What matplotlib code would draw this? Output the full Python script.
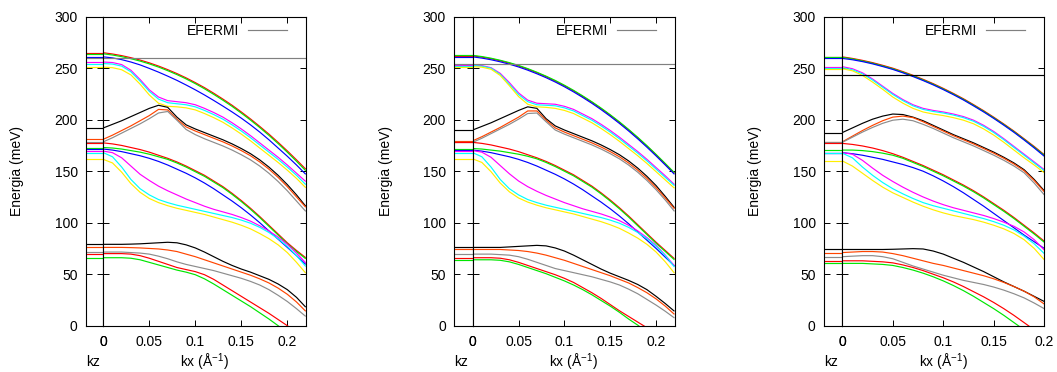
import matplotlib
matplotlib.use('Agg')
import matplotlib.pyplot as plt
from matplotlib.lines import Line2D

plt.rcParams['font.family'] = ['Liberation Sans', 'DejaVu Sans']
plt.rcParams['font.size'] = 10
plt.rcParams['mathtext.default'] = 'regular'

# ---------------- data ----------------
K_AB = [0.00, 0.01, 0.02, 0.03, 0.04, 0.05, 0.06, 0.07, 0.08, 0.09, 0.10, 0.11,
        0.12, 0.13, 0.14, 0.15, 0.16, 0.17, 0.18, 0.19, 0.20, 0.21, 0.22]
K_C = [0.00, 0.01, 0.02, 0.03, 0.04, 0.05, 0.06, 0.07, 0.08, 0.09, 0.10, 0.11,
       0.12, 0.13, 0.14, 0.15, 0.16, 0.17, 0.18, 0.19, 0.20]
KZ = [-1.0, 0.0]

X_TICKS = [0, 0.05, 0.1, 0.15, 0.2]
X_TICK_LABELS = ['0', '0.05', '0.1', '0.15', '0.2']
Y_TICKS = [0, 50, 100, 150, 200, 250, 300]
KZ_TICK_LABELS = ['0']

EFERMI = [260.0, 253.7, 243.0]

# panel 1
P1_TOP_RED = [265, 263.8, 262.2, 260.2, 257.9, 255.2, 252.1, 248.6, 244.8, 240.6, 236, 231.1, 225.7, 220, 214, 207.5, 200.7, 193.5, 186, 178, 169.7, 161, 152]
P1_TOP_GREEN = [264, 262.8, 261.2, 259.2, 256.9, 254.2, 251.1, 247.6, 243.8, 239.6, 235, 230, 224.6, 218.9, 212.9, 206.4, 199.6, 192.4, 184.8, 176.8, 168.4, 159.6, 150.5]
P1_TOP_BLUE = [261, 260, 258.3, 256, 253.2, 249.8, 246.2, 242.3, 238.2, 233.7, 229, 224, 218.7, 213.2, 207.5, 201.5, 195, 188, 180.5, 172.5, 164.5, 156, 147]
P1_TOP_MAGENTA = [256, 255.5, 253.5, 248, 239, 229, 222, 218.5, 217.5, 216.5, 214.5, 211, 207, 202.5, 197, 191, 184.5, 177.5, 170.5, 163.5, 156, 148, 140]
P1_TOP_CYAN = [254.5, 254, 252, 246.5, 237.5, 227.5, 220, 216.5, 215.5, 214.5, 212.5, 209, 205, 200.5, 195, 189, 182.5, 175.5, 168.5, 161.5, 154, 146, 137]
P1_TOP_YELLOW = [251, 250.5, 248.5, 243.5, 234.5, 224, 216, 213, 212.5, 211.5, 209.5, 206, 202, 197.5, 192, 186, 179.5, 172.5, 165.5, 158.5, 151, 143, 134]
P1_MID_BLACK = [192, 195.5, 199, 203, 207, 211, 214, 212, 202.5, 195, 191, 187.5, 184, 180.5, 176.5, 172, 167, 161, 154, 146, 137, 127, 116]
P1_MID_ORANGE = [181, 185, 189.5, 194, 199, 204, 210, 209.5, 200.5, 193, 189, 185.5, 182, 178.5, 174.5, 170, 165, 159, 152, 144, 135, 125, 115]
P1_MID_GRAY = [178.5, 182.5, 187, 191.5, 196, 201, 206.5, 208, 199.5, 190.5, 185.5, 181.5, 178, 174.5, 170.5, 166, 161, 155, 148, 140, 131, 121, 111]
P1_LOW_RED = [177.5, 176.5, 175, 173, 171, 168.5, 165.5, 162.5, 159, 155, 150.5, 146, 140.5, 135, 128.5, 121.5, 114, 106, 97.5, 89, 80.5, 73, 66]
P1_LOW_GREEN = [173, 172.5, 171.5, 170, 168.5, 166.5, 164, 161.5, 158, 154, 149.5, 145, 139.5, 134, 127.5, 120.5, 113, 105, 96.5, 88, 79.5, 72, 65]
P1_LOW_BLUE = [171.5, 170.5, 169, 167, 165, 162.5, 159.5, 156, 152, 148, 143.5, 138.5, 133, 127, 121, 114.5, 107.5, 100, 92, 84, 76, 68, 59.5]
P1_LOW_MAGENTA = [169.5, 168, 163, 155, 147, 141, 135.5, 131, 127, 123, 119.5, 116, 113, 110.5, 108, 105, 101.5, 97, 92, 86, 79, 70.5, 61]
P1_LOW_CYAN = [168, 164, 154, 142, 133, 127, 122.5, 119.5, 117, 115, 113, 111, 109, 107, 105, 102.5, 99.5, 95.5, 90.5, 84.5, 77, 68, 57.5]
P1_LOW_YELLOW = [161.5, 158, 149, 138, 129.5, 123.5, 119.5, 116.5, 114, 112, 110, 108, 105.5, 103, 100.5, 97.5, 94, 89.5, 84.5, 78.5, 71, 61.5, 51]
P1_BOT_BLACK = [79, 79, 79, 79.2, 79.5, 80, 80.5, 81, 80.5, 78.5, 75.5, 71.5, 67, 62.5, 58.5, 55, 52, 48.5, 45, 40.5, 35, 27.5, 18]
P1_BOT_ORANGE = [76, 76, 76, 75.8, 75.5, 75, 74.5, 73.5, 72, 69.5, 67, 64, 61, 58, 55, 52, 49, 45.5, 41.5, 36.5, 30.5, 23, 14]
P1_BOT_GRAY = [71.5, 71.5, 71.5, 71, 70.5, 69.5, 67.5, 65, 62, 59.5, 57.5, 55.5, 53.5, 51, 48.5, 46, 43, 39.5, 35, 29.5, 23.5, 16.5, 9]
P1_BOT_RED = [70, 70, 70, 69.5, 68, 65.5, 62.5, 59.5, 56.5, 54.5, 52.5, 49.5, 45, 39.5, 34, 28.5, 23, 17.5, 12, 6, 0, -6, -12]
P1_BOT_GREEN = [66, 66, 66, 65.5, 64, 61.5, 59, 56.5, 54, 52, 49.5, 45.5, 40.5, 35, 29.5, 24, 18.5, 12.5, 6.5, 0, -6.5, -13, -20]

# panel 2
P2_TOP_RED = [262, 260.8, 259.2, 257.2, 254.9, 252.2, 249.1, 245.6, 241.8, 237.6, 233, 228, 222.6, 216.9, 210.8, 204.3, 197.4, 190.1, 182.4, 174.3, 165.8, 157, 148]
P2_TOP_GREEN = [262.5, 261.3, 259.7, 257.7, 255.4, 252.7, 249.6, 246.1, 242.3, 238.1, 233.5, 228.5, 223.1, 217.4, 211.3, 204.8, 197.9, 190.6, 182.9, 174.8, 166.3, 157.5, 148.5]
P2_TOP_BLUE = [261, 259.8, 258.2, 256.2, 253.9, 251.2, 248.1, 244.6, 240.8, 236.6, 232, 227, 221.6, 215.9, 209.8, 203.3, 196.4, 189.1, 181.4, 173.3, 164.8, 156, 147]
P2_TOP_MAGENTA = [253, 252.5, 250.5, 245, 236, 226, 219, 216, 215.5, 215, 213, 210, 205.5, 201, 195.5, 189.5, 183, 176, 169, 161.5, 153.5, 145.5, 137]
P2_TOP_CYAN = [252.5, 252, 250, 244, 234.5, 224.5, 217.5, 214.5, 214, 213.5, 211.5, 208.5, 204, 199.5, 194, 188, 181.5, 174.5, 167.5, 160, 152, 144, 136]
P2_TOP_YELLOW = [251.5, 251, 249, 243, 233, 222.5, 215, 212.5, 212, 211, 209, 206, 201.5, 197, 191.5, 185.5, 179, 172, 165, 157.5, 149.5, 141.5, 133.5]
P2_MID_BLACK = [190, 193.5, 197, 201, 205, 209, 212.5, 211, 201, 194, 190, 186.5, 183, 179.5, 175.5, 171, 166, 160, 153, 145, 136, 125.5, 114.5]
P2_MID_ORANGE = [179.5, 183.5, 188, 192.5, 197.5, 202.5, 208.5, 208.5, 199.5, 192, 188, 184.5, 181, 177.5, 173.5, 169, 164, 158, 151, 143, 134, 124, 113.5]
P2_MID_GRAY = [178, 182, 186.5, 191, 195.5, 200.5, 206, 206.5, 198, 190, 186, 182.5, 179, 175.5, 171.5, 167, 162, 156, 149, 141, 132, 122, 111]
P2_LOW_RED = [178, 177, 175.5, 173.5, 171.5, 169, 166, 163, 159.5, 155.5, 151, 146.5, 141, 135.5, 129, 122, 114.5, 106.5, 98, 89.5, 81, 73, 65]
P2_LOW_GREEN = [172, 171.5, 170.5, 169.5, 168, 166.5, 164.5, 162, 158.5, 154.5, 150, 145.5, 140, 134.5, 128, 121, 113.5, 105.5, 97, 88.5, 80, 72, 64]
P2_LOW_BLUE = [170.5, 169.5, 168, 166, 164, 161.5, 158.5, 155, 151, 147, 142.5, 137.5, 132, 126, 120, 113.5, 106.5, 99, 91, 83, 75, 66.5, 58]
P2_LOW_MAGENTA = [170, 168.5, 163.5, 155.5, 147.5, 140.5, 135, 130.5, 126.5, 123, 119.5, 116.5, 113.5, 111, 108.5, 105.5, 102, 97.5, 92, 85.5, 78, 68.5, 58]
P2_LOW_CYAN = [168, 164, 154, 142, 133, 127, 122.5, 119.5, 117, 115, 113, 111, 109, 107, 105, 102.5, 99.5, 95.5, 90.5, 84.5, 77, 68, 57]
P2_LOW_YELLOW = [162, 158.5, 149.5, 138.5, 130, 124, 120, 117, 114.5, 112.5, 110.5, 108.5, 106, 103.5, 101, 98, 94.5, 90, 85, 79, 71.5, 62, 51]
P2_BOT_BLACK = [76, 76, 76, 76, 76.5, 77, 77.5, 78, 77.5, 75.5, 72.5, 68.5, 64, 59.5, 55, 51, 47.5, 44, 40, 35, 28.5, 21.5, 14]
P2_BOT_ORANGE = [74, 74, 74, 74, 73.5, 73, 72, 70.5, 68.5, 66, 63.5, 60.5, 57.5, 54.5, 51.5, 48.5, 45, 41.5, 37, 32, 26, 19, 11]
P2_BOT_GRAY = [69.5, 69.5, 69.5, 69, 68.5, 67, 64.5, 61.5, 58.5, 55.5, 53.5, 51.5, 49.5, 47.5, 45, 42.5, 39.5, 35.5, 31, 25.5, 20, 14, 7.5]
P2_BOT_RED = [66, 66, 66, 65.5, 64, 61.5, 58.5, 55.5, 52.5, 49.5, 46, 42, 37, 32, 26.5, 20.5, 14.5, 9, 3.5, -2, -8, -14, -20]
P2_BOT_GREEN = [64, 64, 64, 63.5, 62, 59.5, 56.5, 53.5, 50.5, 47, 43.5, 39.5, 35, 30, 24.5, 19, 13, 6.5, 0.5, -6, -12.5, -19, -26]

# panel 3
P3_TOP_RED = [261, 259.5, 257.6, 255.4, 252.8, 250, 246.7, 243.1, 239.2, 235, 230.4, 225.5, 220.3, 214.6, 208.7, 202.4, 195.8, 188.9, 181.5, 174, 166]
P3_TOP_GREEN = [260.5, 259, 257, 254.8, 252.2, 249.4, 246.1, 242.5, 238.6, 234.4, 229.8, 224.9, 219.7, 214, 208.1, 201.8, 195.2, 188.3, 180.9, 173.3, 165.4]
P3_TOP_BLUE = [259.5, 258.2, 256.4, 254.2, 251.6, 248.8, 245.5, 241.9, 238, 233.8, 229.2, 224.3, 219.1, 213.4, 207.5, 201.2, 194.6, 187.7, 180.3, 172.6, 164.5]
P3_TOP_MAGENTA = [251.5, 249.5, 245.5, 239.5, 232.5, 225.5, 219.5, 214.5, 211, 209, 207.5, 205.5, 203, 199.5, 194.5, 188.5, 181.5, 174, 166.5, 159, 151.5]
P3_TOP_CYAN = [250.5, 248.5, 244.5, 238.5, 231.5, 224.5, 218.5, 213.5, 210, 208, 206.5, 204.5, 202, 198.5, 193.5, 187.5, 180.5, 173, 165.5, 158, 150.5]
P3_TOP_YELLOW = [249.5, 247.5, 243, 236.5, 229.5, 222, 216, 211, 207.5, 205.5, 204, 202, 199.5, 196, 191, 185, 178, 170.5, 163, 156, 148.5]
P3_MID_BLACK = [187.5, 192, 196.5, 200.5, 203.5, 205.5, 205, 202.5, 199, 194.5, 190, 185.5, 181.5, 177.5, 173, 168.5, 163.5, 158, 151.5, 142, 131]
P3_MID_ORANGE = [178.5, 184, 189.5, 194.5, 199, 202.5, 203.5, 202, 198, 193.5, 189, 184.5, 180.5, 176.5, 172, 167.5, 162.5, 157, 150.5, 141, 130]
P3_MID_GRAY = [178, 183, 188, 192.5, 196.5, 199.5, 200.5, 199, 195.5, 191.5, 187, 182.5, 178.5, 174.5, 170, 165.5, 160.5, 155, 148.5, 138.5, 127]
P3_LOW_RED = [177, 176, 174.5, 172.5, 170, 167, 163.5, 159.5, 155.5, 151, 146.5, 141.5, 136.5, 131, 125, 118.5, 112, 105, 97.5, 90, 82]
P3_LOW_GREEN = [170.5, 170.5, 170, 169, 167.5, 165.5, 162.5, 158.5, 154.5, 150, 145.5, 140.5, 135.5, 130, 124, 117.5, 111, 104, 96.5, 89, 81]
P3_LOW_BLUE = [168, 167, 165.5, 163.5, 161.5, 159, 156.5, 153.5, 150, 145.5, 140.5, 135, 129, 122.5, 116, 109, 102, 95, 88, 81.5, 75]
P3_LOW_MAGENTA = [168, 166.5, 160.5, 153, 146, 140, 134.5, 129.5, 125, 121, 117.5, 114.5, 112, 109.5, 107, 104, 100.5, 96.5, 91, 83.5, 73.5]
P3_LOW_CYAN = [167.5, 163, 154, 146, 139, 133, 128, 123.5, 119.5, 116.5, 114, 111.5, 109, 106.5, 104, 101, 97.5, 93, 87, 79.5, 70]
P3_LOW_YELLOW = [160, 155, 148, 141, 134.5, 129, 124.5, 120, 116, 112.5, 109.5, 107, 105, 103, 100.5, 97.5, 94, 89.5, 83.5, 75, 64]
P3_BOT_BLACK = [74, 74, 74, 74, 74, 74.2, 74.5, 74.8, 74.5, 72.5, 69.5, 65.5, 61.5, 57, 52.5, 47.5, 42.5, 38, 33.5, 28.5, 23.5]
P3_BOT_ORANGE = [71, 71.5, 72, 72, 71.5, 70, 68, 65.5, 63, 60.5, 58.5, 56, 53.5, 51, 48.5, 45.5, 42, 38, 33.5, 28, 21]
P3_BOT_GRAY = [67, 67.5, 68, 68, 67, 65, 61.5, 58, 55, 52, 49, 46.5, 44, 42, 40, 37.5, 34.5, 31, 27, 22, 16.5]
P3_BOT_RED = [63, 63, 63, 62.5, 62, 61, 59, 56.5, 53.5, 50, 46.5, 42.5, 38, 33, 28, 22.5, 16.5, 10, 3, -4, -11]
P3_BOT_GREEN = [60.5, 60.5, 60.5, 60, 59.5, 58.5, 56.5, 54, 51, 47.5, 43.5, 39, 34, 28.5, 22.5, 16.5, 10, 3, -4, -11, -18]

# ---------------- style ----------------
RED, GREEN, BLUE = '#ff0000', '#00e600', '#0000ff'
MAGENTA, CYAN, YELLOW = '#ff00ff', '#00ffff', '#ffee00'
BLACK, ORANGE, GRAY = '#000000', '#ff4500', '#8c8c8c'
BAND_COLORS = [RED, GREEN, BLUE, MAGENTA, CYAN, YELLOW,
               BLACK, ORANGE, GRAY,
               RED, GREEN, BLUE, MAGENTA, CYAN, YELLOW,
               BLACK, ORANGE, GRAY, RED, GREEN]
EF_COLORS = ['#808080', '#808080', '#000000']
EF_LEGEND_COLOR = '#808080'

PANEL_BANDS = [
    [P1_TOP_RED, P1_TOP_GREEN, P1_TOP_BLUE, P1_TOP_MAGENTA, P1_TOP_CYAN, P1_TOP_YELLOW,
     P1_MID_BLACK, P1_MID_ORANGE, P1_MID_GRAY,
     P1_LOW_RED, P1_LOW_GREEN, P1_LOW_BLUE, P1_LOW_MAGENTA, P1_LOW_CYAN, P1_LOW_YELLOW,
     P1_BOT_BLACK, P1_BOT_ORANGE, P1_BOT_GRAY, P1_BOT_RED, P1_BOT_GREEN],
    [P2_TOP_RED, P2_TOP_GREEN, P2_TOP_BLUE, P2_TOP_MAGENTA, P2_TOP_CYAN, P2_TOP_YELLOW,
     P2_MID_BLACK, P2_MID_ORANGE, P2_MID_GRAY,
     P2_LOW_RED, P2_LOW_GREEN, P2_LOW_BLUE, P2_LOW_MAGENTA, P2_LOW_CYAN, P2_LOW_YELLOW,
     P2_BOT_BLACK, P2_BOT_ORANGE, P2_BOT_GRAY, P2_BOT_RED, P2_BOT_GREEN],
    [P3_TOP_RED, P3_TOP_GREEN, P3_TOP_BLUE, P3_TOP_MAGENTA, P3_TOP_CYAN, P3_TOP_YELLOW,
     P3_MID_BLACK, P3_MID_ORANGE, P3_MID_GRAY,
     P3_LOW_RED, P3_LOW_GREEN, P3_LOW_BLUE, P3_LOW_MAGENTA, P3_LOW_CYAN, P3_LOW_YELLOW,
     P3_BOT_BLACK, P3_BOT_ORANGE, P3_BOT_GRAY, P3_BOT_RED, P3_BOT_GREEN],
]
PANEL_K = [K_AB, K_AB, K_C]
PANEL_XMAX = [0.2203, 0.2206, 0.2]

# layout in pixels: (kz left, k=0 position, right edge)
W, H = 1057, 372
TOP_PX, BOT_PX = 16.7, 325.7
LAYOUT = [(86.0, 103.3, 306.0), (454.3, 472.7, 675.0), (824.0, 842.3, 1044.3)]

LW = 0.85
FS = 10

fig = plt.figure(figsize=(W / 100, H / 100), dpi=100)
fig.patch.set_facecolor('white')

for p in range(3):
    kzl, k0, right = LAYOUT[p]
    y0 = (H - BOT_PX) / H
    hh = (BOT_PX - TOP_PX) / H
    ax_kz = fig.add_axes([kzl / W, y0, (k0 - kzl) / W, hh])
    ax = fig.add_axes([k0 / W, y0, (right - k0) / W, hh])

    ks = PANEL_K[p]
    for vals, col in zip(PANEL_BANDS[p], BAND_COLORS):
        ax.plot(ks, vals, color=col, lw=LW, solid_capstyle='butt')
        ax_kz.plot(KZ, [vals[0], vals[0]], color=col, lw=LW, solid_capstyle='butt')

    ax.axhline(EFERMI[p], color=EF_COLORS[p], lw=LW)
    ax_kz.axhline(EFERMI[p], color=EF_COLORS[p], lw=LW)

    for a in (ax_kz, ax):
        a.set_ylim(0, 300)
        a.set_yticks(Y_TICKS)
        for s in a.spines.values():
            s.set_linewidth(0.8)
        a.tick_params(axis='both', direction='in', length=4.5, width=0.7,
                      left=True, right=True, top=True, bottom=True, labelsize=FS)
        a.tick_params(axis='x', pad=7.0)
        a.tick_params(axis='y', pad=6.0)

    ax_kz.set_xlim(KZ[0], KZ[1])
    ax_kz.set_xticks([KZ[1]])
    ax_kz.set_xticklabels(KZ_TICK_LABELS)
    ax_kz.tick_params(axis='x', top=False)

    ax.set_xlim(0, PANEL_XMAX[p])
    ax.set_xticks(X_TICKS)
    ax.set_xticklabels(X_TICK_LABELS)
    ax.tick_params(labelleft=False)

    handle = Line2D([], [], color=EF_LEGEND_COLOR, lw=LW)
    ax.legend(handles=[handle], labels=['EFERMI'], loc='center right',
              bbox_to_anchor=((right - 13.5 - k0) / (right - k0), 1 - 14.0 / (BOT_PX - TOP_PX)),
              frameon=False, markerfirst=False, handlelength=2.8, handletextpad=0.65,
              borderaxespad=0.0, borderpad=0.4, fontsize=FS)

    fig.text((kzl - 68.5) / W, 1 - 171.2 / H, 'Energia (meV)', rotation=90,
             ha='center', va='center', fontsize=FS)
    fig.text(kzl / W, 1 - 362.0 / H, 'kz', ha='left', va='center', fontsize=FS)
    fig.text(((k0 + right) / 2) / W, 1 - 362.0 / H, 'kx (Å$^{-1}$)', ha='center',
             va='center', fontsize=FS)

fig.savefig('out.png', dpi=100, facecolor='white')
